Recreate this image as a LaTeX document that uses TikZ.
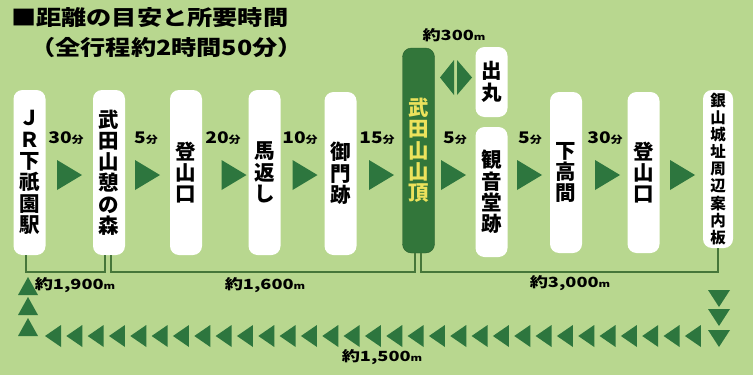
\documentclass[tikz,border=0pt]{standalone}
\usepackage{fontspec}
\setmainfont{Noto Sans CJK JP}
\newfontfamily\lab[FakeStretch=1.2]{Noto Sans CJK JP}
\newfontfamily\distf[FakeStretch=1.3]{Noto Sans CJK JP}
\definecolor{bg}{RGB}{184,215,143}
\definecolor{ag}{RGB}{45,118,62}
\definecolor{peakg}{RGB}{50,118,58}
\definecolor{peaky}{RGB}{236,226,92}
\definecolor{lineg}{RGB}{70,118,58}
\newcommand\fen{{\fontsize{10}{10}\selectfont 分}}
\newcommand\mtr{{\fontsize{9}{9}\selectfont m}}
\begin{document}
\begin{tikzpicture}[x=1pt,y=-1pt,
  box/.style={fill=white, rounded corners=9pt, minimum width=32pt, inner sep=0pt, align=center,
    font=\bfseries\fontsize{20.5}{21.3}\selectfont},
  peakbox/.style={box, fill=peakg, draw=peakg!80!black, text=peaky},
  smallbox/.style={box, font=\bfseries\fontsize{15.5}{17.1}\selectfont},
  time/.style={inner sep=0pt, font=\lab\bfseries\fontsize{16}{16}\selectfont},
  dl/.style={inner sep=0pt, font=\distf\bfseries\fontsize{14}{14}\selectfont},
  bl/.style={draw=lineg, line width=1.5pt},
  rtri/.pic={\fill[ag] (-12.5,-15) -- (12.5,0) -- (-12.5,15) -- cycle;},
  utri/.pic={\fill[ag] (-10,9) -- (0,-9) -- (10,9) -- cycle;},
  dtri/.pic={\fill[ag] (-11,-8.5) -- (11,-8.5) -- (0,8.5) -- cycle;},
  ltri/.pic={\fill[ag] (8,-11) -- (-8,0) -- (8,11) -- cycle;}
]
\useasboundingbox (0,0) rectangle (753,375);
\fill[bg] (0,0) rectangle (753,375);

% title
\node[anchor=west, inner sep=0pt, font=\lab\bfseries\fontsize{21}{21}\selectfont] (title) at (11,18) {■距離の目安と所要時間};
\node[anchor=west, inner sep=0pt, font=\lab\bfseries\fontsize{21}{21}\selectfont] (sub) at (30,48) {（全行程約2時間50分）};

% boxes
\node[box, minimum height=165pt] (b1) at (29.5,172.5) {Ｊ\\Ｒ\\下\\祇\\園\\駅};
\node[box, minimum height=165pt] (b2) at (109,172.5) {武\\田\\山\\憩\\の\\森};
\node[box, minimum height=165pt] (b3) at (186,172.5) {登\\山\\口};
\node[box, minimum height=165pt] (b4) at (264.5,172.5) {馬\\返\\し};
\node[box, minimum height=163pt] (b5) at (340.5,173.5) {御\\門\\跡};
\node[peakbox, minimum height=205pt] (pk) at (418.5,150.5) {武\\田\\山\\山\\頂};
\node[box, minimum height=70pt] (dm) at (491.5,82) {出\\丸};
\node[box, minimum height=130pt] (kn) at (491.5,192) {観\\音\\堂\\跡};
\node[box, minimum height=161pt] (sk) at (566,172.5) {下\\高\\間};
\node[box, minimum height=161pt] (b10) at (643.5,172.5) {登\\山\\口};
\node[smallbox, minimum height=158pt, minimum width=30pt] (gz) at (718,169) {銀\\山\\城\\址\\周\\辺\\案\\内\\板};

% time labels
\node[time] (t1) at (66,138) {30\fen};
\node[time] (t2) at (146,138) {5\fen};
\node[time] (t3) at (223,138) {20\fen};
\node[time] (t4) at (300,138) {10\fen};
\node[time] (t5) at (377,138) {15\fen};
\node[time] (t6) at (455,138) {5\fen};
\node[time] (t7) at (530,138) {5\fen};
\node[time] (t8) at (605,138) {30\fen};

% arrows between boxes
\pic at (69.5,175) {rtri};
\pic at (147.5,175) {rtri};
\pic at (234,175) {rtri};
\pic at (305,175) {rtri};
\pic at (381.5,175) {rtri};
\pic at (453.5,175) {rtri};
\pic at (529.5,175) {rtri};
\pic at (607.5,175) {rtri};
\pic at (682.5,175) {rtri};

% double arrow to 出丸
\fill[ag] (454,60) -- (440,77.5) -- (454,95) -- cycle;
\fill[ag] (457,60) -- (472,77.5) -- (457,95) -- cycle;
\node[dl] (d300) at (454,35) {約300\mtr};

% brackets
\coordinate (k1a) at (26,272); \coordinate (k1b) at (105,272);
\coordinate (k2a) at (111,272); \coordinate (k2b) at (415,272);
\coordinate (k3a) at (421,272); \coordinate (k3b) at (718,272);
\draw[bl] (b1.south -| k1a) -- (k1a) -- (k1b) -- (b2.south -| k1b);
\draw[bl] (b2.south -| k2a) -- (k2a) -- (k2b) -- (pk.south -| k2b);
\draw[bl] (pk.south -| k3a) -- (k3a) -- (k3b) -- (gz.south -| k3b);

\node[dl] (d1) at (75,285) {約1,900\mtr};
\node[dl] (d2) at (265,285) {約1,600\mtr};
\node[dl] (d3) at (570,283) {約3,000\mtr};
\node[dl] (d4) at (382,357) {約1,500\mtr};

% return path
\pic at (28,286) {utri};
\pic at (28,306) {utri};
\pic at (28,327) {utri};
\foreach \i in {0,...,30} \pic at ({53+21.33*\i},336) {ltri};
\pic at (719,298.5) {dtri};
\pic at (719,317.5) {dtri};
\pic at (719,338.5) {dtri};
\end{tikzpicture}
\end{document}
